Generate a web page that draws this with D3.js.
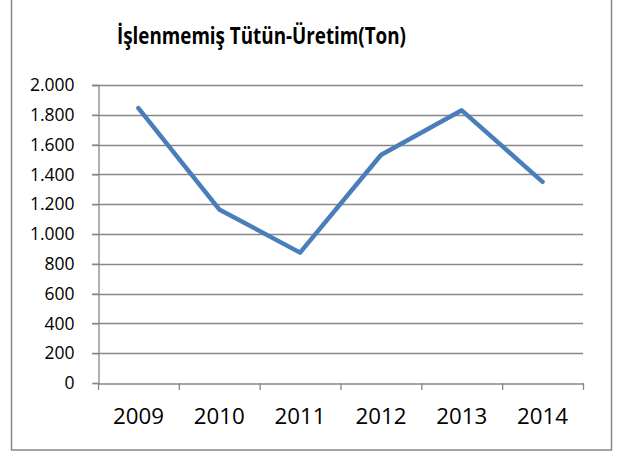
<!DOCTYPE html>
<html><head><meta charset="utf-8">
<script src="https://cdn.jsdelivr.net/npm/d3@7"></script>
<style>body{margin:0;background:#fff}svg{display:block}</style>
</head><body>
<script>
const title = "İşlenmemiş Tütün-Üretim(Ton)";
const years = ["2009","2010","2011","2012","2013","2014"];
const values = [1845, 1165, 875, 1530, 1830, 1350];
const yTicks = [0,200,400,600,800,1000,1200,1400,1600,1800,2000];

const W = 617, H = 454;
const svg = d3.select("body").append("svg").attr("width", W).attr("height", H);
svg.append("rect").attr("x", 11.5).attr("y", -2).attr("width", 600).attr("height", 452)
  .attr("fill", "#fff").attr("stroke", "#878787").attr("stroke-width", 1.5);

const L = 98, R = 583, T = 85, B = 383;
const x = d3.scaleBand().domain(years).range([L, R]);
const y = d3.scaleLinear().domain([0, 2000]).range([B, T]);
const fmt = v => d3.format(",")(v).replace(/,/g, ".");

svg.append("text").attr("x", 261.5).attr("y", 44).attr("text-anchor", "middle")
  .attr("font-family", "Open Sans, sans-serif").attr("font-weight", "bold").attr("font-size", 23)
  .attr("textLength", 289).attr("lengthAdjust", "spacingAndGlyphs")
  .attr("fill", "#000").text(title);

// gridlines
svg.append("g").selectAll("line").data(yTicks.filter(d => d > 0)).join("line")
  .attr("x1", L - 6).attr("x2", R).attr("y1", d => Math.round(y(d)) + 0.5).attr("y2", d => Math.round(y(d)) + 0.5)
  .attr("stroke", "#878787").attr("stroke-width", 1.3);

const yAxis = svg.append("g").attr("transform", `translate(${L + 0.5},0)`)
  .call(d3.axisLeft(y).tickValues(yTicks).tickFormat(fmt).tickSize(6).tickPadding(18));
yAxis.selectAll("text").attr("font-family", "Open Sans, sans-serif").attr("font-size", 17.5).attr("fill", "#000");
yAxis.selectAll("line,path").attr("stroke", "#878787").attr("stroke-width", 1.3);

const xAxis = svg.append("g").attr("transform", `translate(0,${B + 0.5})`)
  .call(d3.axisBottom(x).tickSize(0).tickPadding(25));
xAxis.select("path").attr("stroke", "#878787").attr("stroke-width", 1.3);
xAxis.selectAll("text").attr("font-family", "Open Sans, sans-serif").attr("font-size", 22.3).attr("fill", "#000");
// category boundary ticks
svg.append("g").selectAll("line").data(d3.range(years.length + 1)).join("line")
  .attr("x1", i => L + i * x.step() + 0.5).attr("x2", i => L + i * x.step() + 0.5)
  .attr("y1", B).attr("y2", B + 7).attr("stroke", "#878787").attr("stroke-width", 1.3);

svg.append("path").datum(values)
  .attr("d", d3.line().x((d, i) => x(years[i]) + x.bandwidth() / 2).y(d => y(d)))
  .attr("fill", "none").attr("stroke", "#4A7EBB").attr("stroke-width", 4.5)
  .attr("stroke-linecap", "round").attr("stroke-linejoin", "round");
</script>
</body></html>
